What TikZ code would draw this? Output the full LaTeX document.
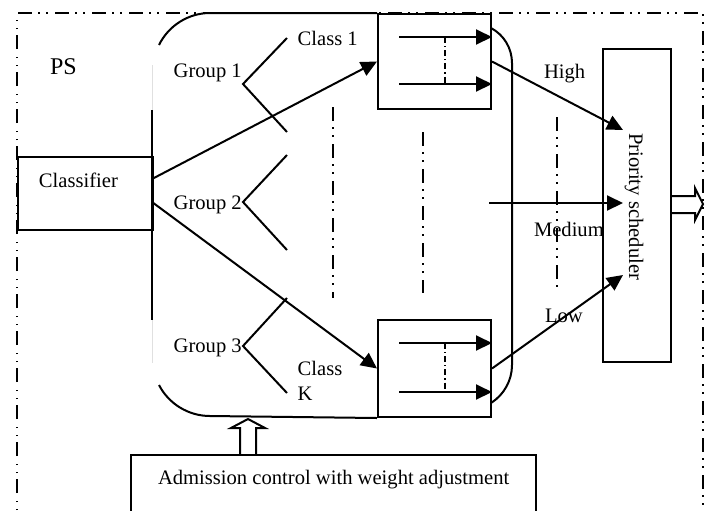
\documentclass[tikz,border=0pt]{standalone}
\usepackage{fontspec}
\setmainfont{Liberation Serif}
\usetikzlibrary{arrows.meta,calc}

\begin{document}
\begin{tikzpicture}[x=0.5pt,y=-0.5pt,line width=1pt,
  font=\fontsize{10.3}{12.5}\selectfont,
  box/.style={draw,line width=1pt,inner sep=0pt,anchor=north west},
  lbl/.style={inner sep=0pt,anchor=base west},
  dashdotdot/.style={dash pattern=on 7pt off 3pt on 0.75pt off 3.25pt on 0.75pt off 3.75pt},
  shortdash/.style={dash pattern=on 3pt off 1.5pt on 0.6pt off 1.5pt},
  tip/.style={-{Triangle[length=8pt,width=7.5pt]}},
  faint/.style={black!12,line width=0.4pt}]

\clip (0,0) rectangle (712,510);

% outer PS frame
\draw[dashdotdot] (17,530) -- (17,13) -- (703,13) -- (703,530);

% boxes
\node[box,minimum width=67.5pt,minimum height=36.5pt] (cls) at (17,156) {};
\node[box,minimum width=56.5pt,minimum height=47.5pt] (q1) at (377,13) {};
\node[box,minimum width=56.5pt,minimum height=48.5pt] (q2) at (377,319) {};
\node[box,minimum width=34pt,minimum height=156.5pt] (sch) at (602,48) {};
\node[box,minimum width=202.5pt,minimum height=43pt] (adm) at (130,454) {};

% labels
\node[lbl,font=\fontsize{12}{14}\selectfont] (pst) at (49,74) {PS};
\node[lbl] (clst) at (38,187) {Classifier};
\node[lbl] (g1t) at (172.7,77) {Group 1};
\node[lbl] (g2t) at (172.7,209) {Group 2};
\node[lbl] (g3t) at (172.7,352) {Group 3};
\node[lbl] (c1t) at (296.7,45) {Class 1};
\node[lbl] (ckt) at (296.7,375) {Class};
\node[lbl] (kt) at (296.7,400) {K};
\node[lbl] (hit) at (543,78) {High};
\node[lbl] (met) at (533,236) {Medium};
\node[lbl] (lot) at (544,322) {Low};
\node[lbl] (admt) at (157,484) {Admission control with weight adjustment};
\node[lbl,rotate=-90] (scht) at (629,132) {Priority scheduler};

% group container outline
\draw (159,45) .. controls (168.5,25.6) and (188.4,13) .. (210,13) -- (q1.north west);
\draw (491,28) .. controls (504,34.9) and (512,48.3) .. (512,63)
  -- (512,365) .. controls (512,380.4) and (504,394.8) .. (491,403);
\draw (152,110) -- (152,320);
\draw (159,385) .. controls (168.8,404) and (188.6,416) .. (210,416) -- (q2.south west);
\draw[faint] (152,65) -- (152,110) (152,320) -- (152,363);

% class forks
\coordinate (g1) at (243,84);
\coordinate (g2) at (243,202);
\coordinate (g3) at (243,346);
\draw (287,38) -- (g1) -- (287,132);
\draw (287,155) -- (g2) -- (287,250);
\draw (287,298) -- (g3) -- (287,393);

% classifier to queues
\coordinate (o1) at (152,179);
\coordinate (o2) at (152,202);
\draw[tip] (o1) -- (q1.west);
\draw[tip] (o2) -- (q2.west);

% queue contents
\coordinate (a1) at (399,37);
\coordinate (a2) at (399,84);
\coordinate (a3) at (399,343);
\coordinate (a4) at (399,392);
\draw[tip] (a1) -- (a1 -| q1.east);
\draw[tip] (a2) -- (a2 -| q1.east);
\draw[tip] (a3) -- (a3 -| q2.east);
\draw[tip] (a4) -- (a4 -| q2.east);
\draw[shortdash] (445,37) -- (445,84);
\draw[shortdash] (445,343) -- (445,392);

% elided rows
\draw[dashdotdot] (333,107) -- (333,298);
\draw[dashdotdot] (423,132) -- (423,293);
\draw[dashdotdot] (557,117) -- (557,288);

% priority levels into scheduler
\coordinate (hiT) at (623,130);
\coordinate (meS) at (489,203);
\coordinate (meT) at (623,203);
\coordinate (loT) at (623,275);
\draw[tip] (q1.east) -- (hiT);
\draw[tip] (meS) -- (meT);
\draw[tip] (q2.east) -- (loT);

% hollow block arrows
\draw (sch.east |- 0,196) -- (695,196) -- (695,188) -- (703,204) -- (695,220)
  -- (695,213) -- (sch.east |- 0,213);
\draw (adm.north -| 240,0) -- (240,428) -- (231,428) -- (248,419) -- (265,428)
  -- (256,428) -- (adm.north -| 256,0);
\end{tikzpicture}
\end{document}
